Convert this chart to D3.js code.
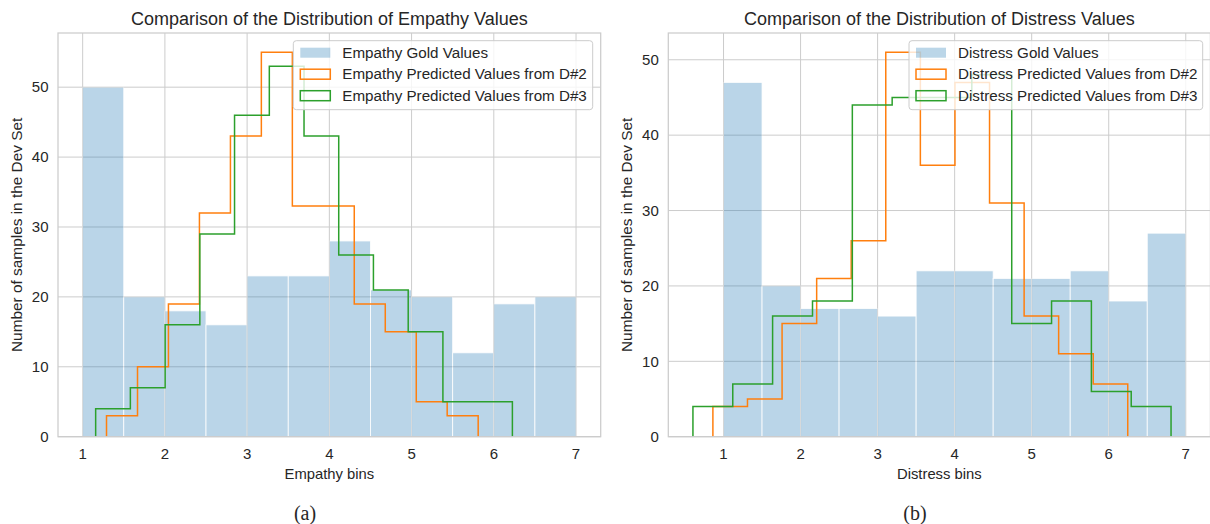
<!DOCTYPE html>
<html>
<head>
<meta charset="utf-8">
<script src="https://cdn.jsdelivr.net/npm/d3@7"></script>
<style>
  body { margin: 0; background: #fff; }
  svg text { font-family: "Liberation Sans", Arial, sans-serif; fill: #262626; }
  .caption { font-family: "Liberation Serif", "Times New Roman", serif !important; }
</style>
</head>
<body>
<svg id="chart" width="1210" height="524"></svg>
<script>
// tick labels
const xTicks = [1, 2, 3, 4, 5, 6, 7];
const yTicks = [0, 10, 20, 30, 40, 50];

// gold bins (same edges for both panels)
const goldEdges = [1, 1.5, 2, 2.5, 3, 3.5, 4, 4.5, 5, 5.5, 6, 6.5, 7];

// empathy
const empathyGold = [50, 20, 18, 16, 23, 23, 28, 21, 20, 12, 19, 20];
const empathyD2Edges = [1.29, 1.667, 2.043, 2.42, 2.797, 3.173, 3.55, 3.927, 4.303, 4.68, 5.057, 5.433, 5.81];
const empathyD2 = [3, 10, 19, 32, 43, 55, 33, 33, 19, 15, 5, 3];
const empathyD3Edges = [1.158, 1.58, 2.003, 2.425, 2.847, 3.27, 3.692, 4.114, 4.536, 4.959, 5.381, 5.803, 6.226];
const empathyD3 = [4, 7, 16, 29, 46, 53, 43, 26, 21, 15, 5, 5];

// distress
const distressGold = [47, 20, 17, 17, 16, 22, 22, 21, 21, 22, 18, 27];
const distressD2Edges = [0.862, 1.311, 1.76, 2.209, 2.657, 3.106, 3.555, 4.004, 4.453, 4.902, 5.35, 5.799, 6.247];
const distressD2 = [4, 5, 15, 21, 26, 51, 36, 47, 31, 16, 11, 7];
const distressD3Edges = [0.603, 1.12, 1.637, 2.155, 2.672, 3.189, 3.706, 4.223, 4.741, 5.258, 5.775, 6.292, 6.809];
const distressD3 = [4, 7, 16, 18, 44, 45, 45, 48, 15, 18, 6, 4];

const blue = '#1f77b4', orange = '#ff7f0e', green = '#2ca02c';
const svg = d3.select('#chart');

function drawPanel(p) {
    const g = svg.append('g');

    // matplotlib-like 5% margins
    const allX = goldEdges.concat(p.d2Edges, p.d3Edges);
    const [xmin, xmax] = d3.extent(allX);
    const padX = (xmax - xmin) * 0.05;
    const ymax = d3.max(p.gold.concat(p.d2, p.d3)) * 1.05;

    const x = d3.scaleLinear().domain([xmin - padX, xmax + padX]).range([p.left, p.right]);
    const y = d3.scaleLinear().domain([0, ymax]).range([p.bottom, p.top]);

    // grid
    g.selectAll('line.gx').data(xTicks).join('line')
        .attr('x1', d => x(d)).attr('x2', d => x(d))
        .attr('y1', p.top).attr('y2', p.bottom)
        .attr('stroke', '#cccccc').attr('stroke-width', 1);
    g.selectAll('line.gy').data(yTicks).join('line')
        .attr('x1', p.left).attr('x2', p.right)
        .attr('y1', d => y(d)).attr('y2', d => y(d))
        .attr('stroke', '#cccccc').attr('stroke-width', 1);

    // gold bars
    const bins = p.gold.map((v, i) => ({x0: goldEdges[i], x1: goldEdges[i + 1], v}));
    g.append('g').attr('opacity', 0.3)
        .selectAll('rect').data(bins).join('rect')
        .attr('x', d => x(d.x0)).attr('width', d => x(d.x1) - x(d.x0))
        .attr('y', d => y(d.v)).attr('height', d => y(0) - y(d.v))
        .attr('fill', blue).attr('stroke', '#fff').attr('stroke-width', 0.8);

    // step outlines
    const stepPath = (edges, vals) => {
        let s = `M${x(edges[0])},${y(0)}`;
        vals.forEach((v, i) => {
            s += `L${x(edges[i])},${y(v)}L${x(edges[i + 1])},${y(v)}`;
        });
        s += `L${x(edges[edges.length - 1])},${y(0)}`;
        return s;
    };
    g.append('path').attr('d', stepPath(p.d2Edges, p.d2))
        .attr('fill', 'none').attr('stroke', orange).attr('stroke-width', 1.5);
    g.append('path').attr('d', stepPath(p.d3Edges, p.d3))
        .attr('fill', 'none').attr('stroke', green).attr('stroke-width', 1.5);

    // frame
    g.append('rect')
        .attr('x', p.left).attr('y', p.top)
        .attr('width', p.right - p.left).attr('height', p.bottom - p.top)
        .attr('fill', 'none').attr('stroke', '#cccccc').attr('stroke-width', 1.25);

    // tick labels
    g.selectAll('text.xt').data(xTicks).join('text')
        .attr('x', d => x(d)).attr('y', p.bottom + 22.5)
        .attr('text-anchor', 'middle').attr('font-size', 15)
        .text(d => d);
    g.selectAll('text.yt').data(yTicks).join('text')
        .attr('x', p.left - 9.5).attr('y', d => y(d) + 5.3)
        .attr('text-anchor', 'end').attr('font-size', 15)
        .text(d => d);

    // titles
    g.append('text').attr('x', (p.left + p.right) / 2).attr('y', 24.5)
        .attr('text-anchor', 'middle').attr('font-size', 18).text(p.title);
    g.append('text').attr('x', (p.left + p.right) / 2).attr('y', p.bottom + 42)
        .attr('text-anchor', 'middle').attr('font-size', 14.8).text(p.xLabel);
    g.append('text')
        .attr('transform', `translate(${p.left - 36},${(p.top + p.bottom) / 2}) rotate(-90)`)
        .attr('text-anchor', 'middle').attr('font-size', 15.4)
        .text('Number of samples in the Dev Set');
    g.append('text').attr('class', 'caption')
        .attr('x', p.capX).attr('y', 520)
        .attr('text-anchor', 'middle').attr('font-size', 20).text(p.caption);

    // legend
    const lg = g.append('g').attr('transform', `translate(${p.legX},${p.top + 7.7})`);
    lg.append('rect').attr('width', p.legW).attr('height', 69).attr('rx', 3)
        .attr('fill', '#fff').attr('fill-opacity', 0.8)
        .attr('stroke', '#cccccc').attr('stroke-width', 1);
    const items = [
        {label: p.names[0], type: 'fill', color: blue},
        {label: p.names[1], type: 'step', color: orange},
        {label: p.names[2], type: 'step', color: green}
    ];
    items.forEach((it, i) => {
        const cy = 12 + i * 21.5;
        const r = lg.append('rect').attr('x', 7).attr('y', cy - 5)
            .attr('width', 30).attr('height', 10);
        if (it.type === 'fill') {
            r.attr('fill', it.color).attr('fill-opacity', 0.3);
        } else {
            r.attr('fill', 'none').attr('stroke', it.color).attr('stroke-width', 1.5);
        }
        lg.append('text').attr('x', 49).attr('y', cy + 5.3)
            .attr('font-size', 15.2).text(it.label);
    });
}

drawPanel({
    left: 58, right: 600.7, top: 33, bottom: 436.7,
    gold: empathyGold, d2Edges: empathyD2Edges, d2: empathyD2, d3Edges: empathyD3Edges, d3: empathyD3,
    title: 'Comparison of the Distribution of Empathy Values',
    xLabel: 'Empathy bins', caption: '(a)', capX: 305,
    names: ['Empathy Gold Values', 'Empathy Predicted Values from D#2', 'Empathy Predicted Values from D#3'],
    legX: 293.3, legW: 299.4
});

drawPanel({
    left: 668.3, right: 1210.4, top: 33, bottom: 436.7,
    gold: distressGold, d2Edges: distressD2Edges, d2: distressD2, d3Edges: distressD3Edges, d3: distressD3,
    title: 'Comparison of the Distribution of Distress Values',
    xLabel: 'Distress bins', caption: '(b)', capX: 915,
    names: ['Distress Gold Values', 'Distress Predicted Values from D#2', 'Distress Predicted Values from D#3'],
    legX: 909, legW: 293.7
});
</script>
</body>
</html>
